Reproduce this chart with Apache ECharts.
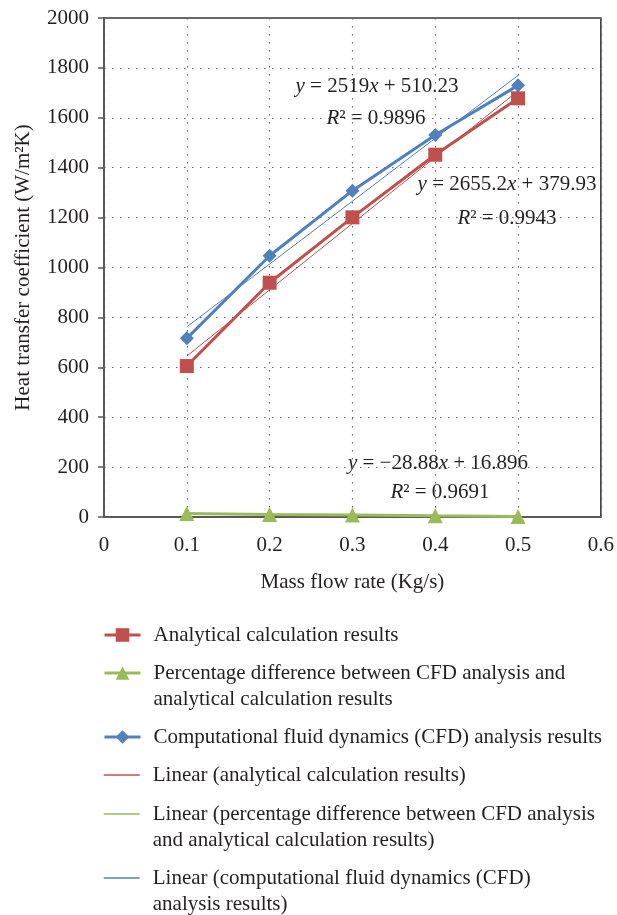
<!DOCTYPE html>
<html>
<head>
<meta charset="utf-8">
<script src="https://cdn.jsdelivr.net/npm/echarts@6/dist/echarts.min.js"></script>
<style>
  html, body { margin: 0; background: #fff; }
  #chart { width: 617px; height: 915px; }
</style>
</head>
<body>
<div id="chart"></div>
<script>
// data
const massFlow = [0.1, 0.2, 0.3, 0.4, 0.5]
const analytical = [605, 939, 1201, 1452, 1678]
const percentDiff = [14.5, 10.5, 8, 5, 2.5]
const cfd = [716, 1047, 1308, 1531, 1730]

// trend line end points (Excel linear trendlines)
const trendX = [0.1, 0.5]
const analyticalTrend = [645, 1708]
const percentTrend = [14, 2.5]
const cfdTrend = [762, 1770]

const xTickLabels = ['0', '0.1', '0.2', '0.3', '0.4', '0.5', '0.6']
const yTickLabels = ['0', '200', '400', '600', '800', '1000', '1200', '1400', '1600', '1800', '2000']

const names = [
  'Analytical calculation results',
  'Percentage difference between CFD analysis and analytical calculation results',
  'Computational fluid dynamics (CFD) analysis results',
  'Linear (analytical calculation results)',
  'Linear (percentage difference between CFD analysis and analytical calculation results)',
  'Linear (computational fluid dynamics (CFD) analysis results)',
]
// how the legend wraps each name
const legendLines = [
  ['Analytical calculation results'],
  ['Percentage difference between CFD analysis and', 'analytical calculation results'],
  ['Computational fluid dynamics (CFD) analysis results'],
  ['Linear (analytical calculation results)'],
  ['Linear (percentage difference between CFD analysis', 'and analytical calculation results)'],
  ['Linear (computational fluid dynamics (CFD)', 'analysis results)'],
]
// y of the first text line of each legend row
const legendRowY = [635, 673, 737, 775, 814, 878]

const RED = '#C0504D'
const GREEN = '#9BBB59'
const BLUE = '#4F81BD'
const TEXT = '#231F20'
const FONT = 'Liberation Serif'
const FS = 21
const LH = 26

const pairs = (xs, ys) => xs.map((x, i) => [x, ys[i]])

const chart = echarts.init(document.getElementById('chart'))

// 一个图例一个组件，方便逐行定位
// 两行的条目前面加一个空行，这样图标和第一行对齐
const legends = names.map((n, i) => {
  const lines = legendLines[i]
  const text = lines.length > 1 ? '\n' + lines.join('\n') : lines[0]
  const h = lines.length > 1 ? LH * 3 : LH
  return {
    data: [n],
    left: 103,
    top: legendRowY[i] - h / 2,
    padding: 0,
    itemWidth: 36,
    itemHeight: 17,
    formatter: () => text,
    itemStyle: i >= 3 ? { opacity: 0 } : {},
    lineStyle: { width: i >= 3 ? 1.5 : 3 },
    textStyle: {
      fontFamily: FONT,
      fontSize: FS,
      color: TEXT,
      lineHeight: LH,
      padding: [0, 0, 0, 8],
    },
  }
})

const eq = (text, x, y) => ({
  type: 'text',
  x: x,
  y: y,
  style: {
    text: text,
    align: 'center',
    verticalAlign: 'middle',
    fontFamily: FONT,
    fontSize: FS,
    fill: TEXT,
    rich: {
      i: { fontFamily: FONT, fontSize: FS, fontStyle: 'italic', fill: TEXT },
    },
  },
})

const option = {
  animation: false,
  grid: {
    left: 104,
    right: 15,
    top: 18,
    bottom: 398,
    show: true,
    borderColor: '#3a3a3a',
    borderWidth: 1.6,
  },
  xAxis: {
    type: 'value',
    min: 0,
    max: 0.6,
    interval: 0.1,
    name: 'Mass flow rate (Kg/s)',
    nameLocation: 'middle',
    nameGap: 55,
    nameTextStyle: { fontFamily: FONT, fontSize: FS, color: TEXT },
    axisLine: { show: true, lineStyle: { color: '#595959', width: 2 } },
    axisTick: { show: false },
    axisLabel: {
      margin: 18,
      fontFamily: FONT,
      fontSize: FS,
      color: TEXT,
      formatter: (v, i) => xTickLabels[i],
    },
    splitLine: { show: true, lineStyle: { color: '#666', type: [1.5, 6.5], width: 1.2 } },
  },
  yAxis: {
    type: 'value',
    min: 0,
    max: 2000,
    interval: 200,
    name: 'Heat transfer coefficient (W/m²K)',
    nameLocation: 'middle',
    nameGap: 70,
    nameTextStyle: { fontFamily: FONT, fontSize: FS, color: TEXT },
    axisLine: { show: true, lineStyle: { color: '#595959', width: 2 } },
    axisTick: { show: true, length: 6, lineStyle: { color: '#595959', width: 1.5 } },
    axisLabel: {
      margin: 15,
      fontFamily: FONT,
      fontSize: FS,
      color: TEXT,
      formatter: (v, i) => yTickLabels[i],
    },
    splitLine: { show: true, lineStyle: { color: '#666', type: [1.5, 6.5], width: 1.2 } },
  },
  legend: legends,
  series: [
    {
      name: names[0],
      type: 'line',
      data: pairs(massFlow, analytical),
      symbol: 'rect',
      symbolSize: 14,
      lineStyle: { color: RED, width: 3 },
      itemStyle: { color: RED },
      z: 3,
    },
    {
      name: names[1],
      type: 'line',
      data: pairs(massFlow, percentDiff),
      symbol: 'triangle',
      symbolSize: 15,
      lineStyle: { color: GREEN, width: 3 },
      itemStyle: { color: GREEN },
      z: 3,
    },
    {
      name: names[2],
      type: 'line',
      data: pairs(massFlow, cfd),
      symbol: 'diamond',
      symbolSize: 14,
      lineStyle: { color: BLUE, width: 3 },
      itemStyle: { color: BLUE },
      z: 3,
    },
    {
      name: names[3],
      type: 'line',
      data: pairs(trendX, analyticalTrend),
      symbol: 'none',
      lineStyle: { color: RED, width: 1 },
      itemStyle: { color: RED },
      z: 4,
    },
    {
      name: names[4],
      type: 'line',
      data: pairs(trendX, percentTrend),
      symbol: 'none',
      lineStyle: { color: GREEN, width: 1 },
      itemStyle: { color: GREEN },
      z: 4,
    },
    {
      name: names[5],
      type: 'line',
      data: pairs(trendX, cfdTrend),
      symbol: 'none',
      lineStyle: { color: BLUE, width: 1 },
      itemStyle: { color: BLUE },
      z: 4,
    },
  ],
  graphic: [
    eq('{i|y} = 2519{i|x} + 510.23', 377, 86),
    eq('{i|R}² = 0.9896', 376, 118),
    eq('{i|y} = 2655.2{i|x} + 379.93', 507, 184),
    eq('{i|R}² = 0.9943', 507, 218),
    eq('{i|y} = −28.88{i|x} + 16.896', 438, 463),
    eq('{i|R}² = 0.9691', 440, 492),
  ],
}

chart.setOption(option)
</script>
</body>
</html>
